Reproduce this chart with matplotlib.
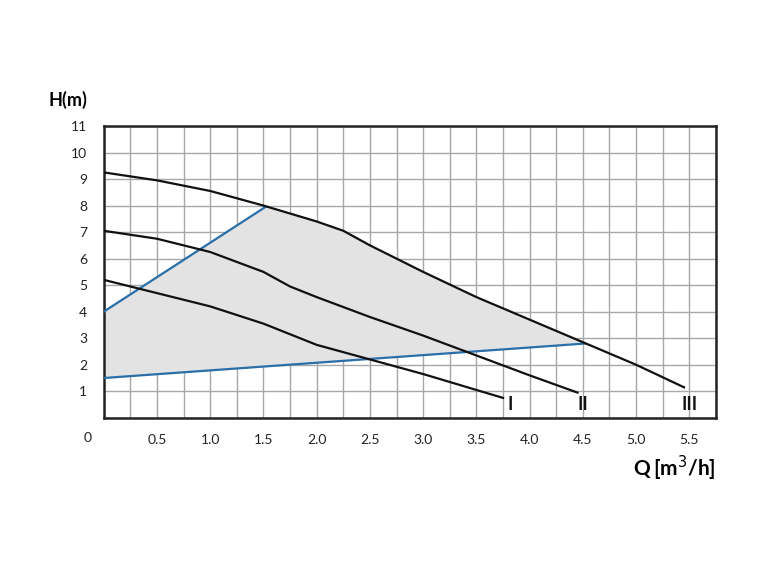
import numpy as np
import matplotlib.pyplot as plt

# pump curves (Q m3/h, H m)
q3 = [0, 0.5, 1.0, 1.5, 2.0, 2.25, 2.5, 3.0, 3.5, 4.0, 4.5, 5.0, 5.45]
h3 = [9.25, 8.95, 8.55, 8.0, 7.4, 7.05, 6.5, 5.5, 4.55, 3.7, 2.85, 2.0, 1.15]
q2 = [0, 0.5, 1.0, 1.5, 1.75, 2.0, 2.5, 3.0, 3.5, 4.0, 4.45]
h2 = [7.05, 6.75, 6.25, 5.5, 4.95, 4.55, 3.8, 3.1, 2.35, 1.6, 0.95]
q1 = [0, 0.5, 1.0, 1.5, 2.0, 2.5, 3.0, 3.5, 3.75]
h1 = [5.2, 4.7, 4.2, 3.55, 2.75, 2.2, 1.65, 1.05, 0.75]
upper_q = [0, 1.52]
upper_h = [4.0, 7.95]
lower_q = [0, 4.52]
lower_h = [1.5, 2.8]
curve_names = ["I", "II", "III"]
label_q = [3.82, 4.5, 5.5]

plt.rcParams['font.family'] = ['Lato', 'DejaVu Sans']
fig = plt.figure(figsize=(7.74, 5.7), dpi=100)
ax = fig.add_axes([0.134, 0.267, 0.791, 0.512])

# shaded working area
qq = np.linspace(upper_q[1], lower_q[1], 50)
top = np.interp(qq, q3, h3)
poly_q = [0] + upper_q[1:] + list(qq) + [lower_q[1], 0]
poly_h = [upper_h[0]] + upper_h[1:] + list(top) + [lower_h[1], lower_h[0]]
ax.fill(poly_q, poly_h, color="#e3e3e3", zorder=1)

blue = "#2a6fa8"
ax.plot(upper_q, upper_h, color=blue, lw=1.6, zorder=3)
ax.plot(lower_q, lower_h, color=blue, lw=1.6, zorder=3)
for q, h in [(q1, h1), (q2, h2), (q3, h3)]:
    ax.plot(q, h, color="#111111", lw=1.6, zorder=4)

for name, lq in zip(curve_names, label_q):
    ax.text(lq, 0.5, name, ha="center", va="center",
            fontsize=13, fontweight="bold", color="#111111")

ax.set_xlim(0, 5.75)
ax.set_ylim(0, 11)
ax.set_xticks(np.arange(0, 5.76, 0.25))
ax.set_yticks(range(0, 12))
ax.grid(True, color="#a8a8a8", lw=1.0, zorder=0)
ax.set_axisbelow(True)
ax.tick_params(length=0, labelsize=10, colors="#222222")
xl = ["" if i % 2 or i == 0 else f"{i*0.25:.1f}" for i in range(24)]
ax.set_xticklabels(xl)
ax.set_yticklabels([""] + [str(i) for i in range(1, 12)])
ax.tick_params(axis="x", pad=12)
ax.tick_params(axis="y", pad=12)
for s in ax.spines.values():
    s.set_linewidth(1.8)
    s.set_color("#222222")

fig.text(88 / 774, 1 - 438 / 570, "0", ha="center", va="center", fontsize=10, color="#222222")
fig.text(68 / 774, 1 - 100 / 570, "H(m)", ha="center", va="center", fontsize=13, fontweight="bold")
fig.text(716 / 774, 1 - 468 / 570, r"Q$\,$[m$^3$/h]", ha="right", va="center", fontsize=15, fontweight="bold")

fig.savefig("out.png", dpi=100)
